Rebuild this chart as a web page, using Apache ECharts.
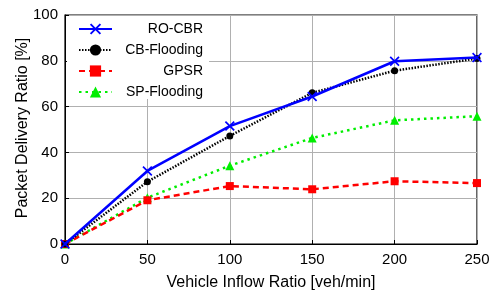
<!DOCTYPE html>
<html>
<head>
<meta charset="utf-8">
<script src="https://cdn.jsdelivr.net/npm/echarts@6/dist/echarts.min.js"></script>
<style>
  html, body { margin: 0; padding: 0; background: #fff; }
  #main { width: 494px; height: 293px; }
</style>
</head>
<body>
<div id="main"></div>
<script>
// data
var inflow = [0, 50, 100, 150, 200, 250];
var roCbr = [0, 31.9, 51.5, 64.4, 79.8, 81.4];
var cbFlooding = [0, 27.2, 47.2, 66.0, 75.7, 81.0];
var gpsr = [0, 19.1, 25.3, 23.9, 27.4, 26.6];
var spFlooding = [0, 20.2, 34.2, 46.3, 54.0, 55.8];

var crossPath = 'path://M0,1.2L1.2,0L5,3.8L8.8,0L10,1.2L6.2,5L10,8.8L8.8,10L5,6.2L1.2,10L0,8.8L3.8,5Z';

function pairs(arr) {
  return inflow.map(function (x, i) { return [x, arr[i]]; });
}

var chart = echarts.init(document.getElementById('main'));
var font = 'Liberation Sans, Arial, sans-serif';

var option = {
  animation: false,
  grid: {
    left: 65, right: 17, top: 15, bottom: 49,
    outerBoundsMode: 'none',
    show: true, borderColor: '#000', borderWidth: 1.2, backgroundColor: 'transparent'
  },
  // y axis title, placed by hand (axis name gap would not move it)
  graphic: [{
    type: 'text', x: 23, y: 128, rotation: Math.PI / 2,
    style: {
      text: 'Packet Delivery Ratio [%]', fontFamily: font, fontSize: 16, fill: '#000',
      align: 'center', verticalAlign: 'middle'
    }
  }],
  legend: {
    left: 67, top: 16,
    orient: 'vertical',
    backgroundColor: '#fff',
    padding: [6, 6, 0, 11],
    itemGap: 7,
    itemWidth: 33, itemHeight: 14,
    formatter: function (name) { return '{t|' + name + '}'; },
    textStyle: {
      fontFamily: font, fontSize: 14, color: '#000',
      rich: { t: { fontFamily: font, fontSize: 14, color: '#000', width: 86, align: 'right' } }
    },
    data: ['RO-CBR', 'CB-Flooding', 'GPSR', 'SP-Flooding']
  },
  xAxis: {
    type: 'value', min: 0, max: 250, interval: 50,
    name: 'Vehicle Inflow Ratio [veh/min]', nameLocation: 'middle', nameGap: 31,
    nameTextStyle: { fontFamily: font, fontSize: 16, color: '#000' },
    axisLine: { lineStyle: { color: '#000' } },
    axisTick: { inside: true, length: 4, lineStyle: { color: '#000' } },
    axisLabel: { fontFamily: font, fontSize: 15, color: '#000', margin: 8 },
    splitLine: { lineStyle: { color: '#b0b0b0', width: 1 } }
  },
  yAxis: {
    type: 'value', min: 0, max: 100, interval: 20,
    axisLine: { lineStyle: { color: '#000' } },
    axisTick: { inside: true, length: 4, lineStyle: { color: '#000' } },
    axisLabel: { fontFamily: font, fontSize: 15, color: '#000', margin: 7 },
    splitLine: { lineStyle: { color: '#b0b0b0', width: 1 } }
  },
  series: [
    {
      name: 'RO-CBR', type: 'line', data: pairs(roCbr), z: 5,
      symbol: crossPath, symbolSize: 10,
      lineStyle: { color: '#0000ff', width: 2.5, type: 'solid' },
      itemStyle: { color: '#0000ff' }
    },
    {
      name: 'CB-Flooding', type: 'line', data: pairs(cbFlooding), z: 4,
      symbol: 'circle', symbolSize: 7,
      lineStyle: { color: '#000', width: 2.5, type: [1.5, 1.5] },
      itemStyle: { color: '#000' }
    },
    {
      name: 'GPSR', type: 'line', data: pairs(gpsr), z: 3,
      symbol: 'rect', symbolSize: 8,
      lineStyle: { color: '#ff0000', width: 2.5, type: [6, 4] },
      itemStyle: { color: '#ff0000' }
    },
    {
      name: 'SP-Flooding', type: 'line', data: pairs(spFlooding), z: 2,
      symbol: 'triangle', symbolSize: 9,
      lineStyle: { color: '#00ee00', width: 2.5, type: [2.5, 4] },
      itemStyle: { color: '#00ee00' }
    }
  ]
};
chart.setOption(option);
</script>
</body>
</html>
